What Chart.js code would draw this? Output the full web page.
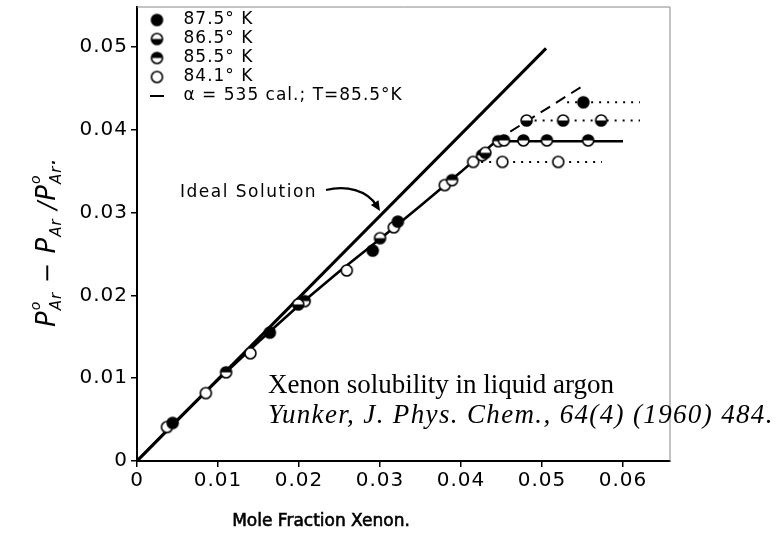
<!DOCTYPE html>
<html>
<head>
<meta charset="utf-8">
<script src="https://cdn.jsdelivr.net/npm/chart.js@4.4.1/dist/chart.umd.min.js"></script>
<style>
  html, body { margin: 0; padding: 0; background: #fff; }
</style>
</head>
<body>
<canvas id="chart" width="782" height="541"></canvas>
<script>
// Xenon in liquid argon: relative vapour pressure lowering vs mole fraction
const tickValues = [0, 0.01, 0.02, 0.03, 0.04, 0.05, 0.06];
const seriesLabels = ["87.5° K", "86.5° K", "85.5° K", "84.1° K"];
const theoryLabel = "α = 535 cal.; T=85.5°K";

const x875 = [0.0044, 0.0164, 0.0291, 0.0322, 0.0551];
const y875 = [0.0046, 0.0155, 0.0254, 0.0289, 0.0433];

const x865 = [0.0199, 0.0300, 0.0430, 0.0481, 0.0526, 0.0573];
const y865 = [0.0189, 0.0269, 0.0372, 0.0411, 0.0411, 0.0411];

const x855 = [0.0110, 0.0207, 0.0389, 0.0426, 0.0446, 0.0453, 0.0477, 0.0506, 0.0557];
const y855 = [0.0107, 0.0193, 0.0339, 0.0369, 0.0386, 0.0387, 0.0387, 0.0387, 0.0387];

const x841 = [0.0037, 0.0085, 0.0140, 0.0259, 0.0317, 0.0380, 0.0415, 0.0451, 0.0520];
const y841 = [0.0041, 0.0082, 0.0130, 0.0230, 0.0282, 0.0333, 0.0361, 0.0361, 0.0361];

// smooth experimental curve through the points, flat once saturated
const curveX = [0, 0.005, 0.010, 0.015, 0.020, 0.025, 0.030, 0.035, 0.040, 0.0443, 0.0600];
const curveY = [0, 0.0050, 0.0098, 0.0144, 0.0188, 0.0229, 0.0268, 0.0308, 0.0349, 0.0386, 0.0386];

const idealX = [0, 0.0505];
const idealY = [0, 0.0498];

const theoryX = [0.0442, 0.0554];
const theoryY = [0.0386, 0.0455];

// saturation plateaus (dotted)
const sat875X = [0.0531, 0.0621], sat875Y = [0.0433, 0.0433];
const sat865X = [0.0481, 0.0621], sat865Y = [0.0411, 0.0411];
const sat841X = [0.0415, 0.0574], sat841Y = [0.0361, 0.0361];

const zip = (xs, ys) => xs.map((x, i) => ({ x, y: ys[i] }));

function marker(kind, r) {
  const c = document.createElement("canvas");
  const s = Math.ceil(2 * r + 4);
  c.width = c.height = s;
  const g = c.getContext("2d");
  const m = s / 2;
  g.fillStyle = "#fff";
  g.beginPath(); g.arc(m, m, r, 0, Math.PI * 2); g.fill();
  g.fillStyle = "#000";
  g.beginPath();
  if (kind === "full") g.arc(m, m, r, 0, Math.PI * 2);
  if (kind === "lower") g.arc(m, m, r, 0, Math.PI);
  if (kind === "upper") g.arc(m, m, r, Math.PI, Math.PI * 2);
  g.closePath();
  if (kind !== "open") g.fill();
  g.lineWidth = 1.6;
  g.strokeStyle = "#000";
  g.beginPath(); g.arc(m, m, r, 0, Math.PI * 2); g.stroke();
  return c;
}

function dashIcon() {
  const c = document.createElement("canvas");
  c.width = 14; c.height = 4;
  const g = c.getContext("2d");
  g.fillStyle = "#000";
  g.fillRect(0, 1, 14, 2);
  return c;
}

const pts = (label, xs, ys, style) => ({
  label, data: zip(xs, ys), showLine: false, pointStyle: style,
  pointRadius: 6, pointHoverRadius: 6, inLegend: true
});
const line = (label, xs, ys, width, dash, legend) => ({
  label, data: zip(xs, ys), showLine: true, pointRadius: 0, borderColor: "#000",
  borderWidth: width, borderDash: dash, tension: 0, inLegend: legend,
  pointStyle: legend ? dashIcon() : "circle"
});

const extras = {
  id: "extras",
  beforeUpdate(chart) { chart.ctx.letterSpacing = "1px"; },
  beforeDraw(chart) { chart.ctx.letterSpacing = "1px"; },
  afterDraw(chart) {
    const ctx = chart.ctx;
    const a = chart.chartArea;
    ctx.save();

    // faint frame on the top and right
    ctx.strokeStyle = "#888";
    ctx.lineWidth = 1;
    ctx.beginPath();
    ctx.moveTo(a.left, a.top); ctx.lineTo(a.right, a.top); ctx.lineTo(a.right, a.bottom);
    ctx.stroke();

    ctx.fillStyle = "#000";
    ctx.strokeStyle = "#000";

    // "Ideal Solution" label with curved arrow
    ctx.letterSpacing = "1.5px";
    ctx.font = '17px "DejaVu Sans"';
    ctx.textBaseline = "middle";
    ctx.textAlign = "left";
    ctx.fillText("Ideal Solution", 180, 193);
    ctx.lineWidth = 2.2;
    ctx.beginPath();
    ctx.moveTo(326, 190);
    ctx.bezierCurveTo(346, 185, 367, 190, 377, 206);
    ctx.stroke();
    const ang = Math.atan2(206 - 190, 377 - 367);
    ctx.save();
    ctx.translate(380, 211);
    ctx.rotate(ang);
    ctx.beginPath();
    ctx.moveTo(0, 0); ctx.lineTo(-10, -4.5); ctx.lineTo(-10, 4.5); ctx.closePath();
    ctx.fill();
    ctx.restore();

    // x axis title, slightly heavier than the tick labels
    ctx.letterSpacing = "0px";
    ctx.font = '17px "DejaVu Sans"';
    ctx.textAlign = "center";
    ctx.lineWidth = 0.6;
    ctx.fillText("Mole Fraction Xenon.", 321, 522);
    ctx.strokeText("Mole Fraction Xenon.", 321, 522);

    // y axis title, rotated, with sub/superscripts
    ctx.letterSpacing = "1px";
    const parts = [
      ["P", 26, 0], ["o", 14, -15], ["Ar", 15, 6], [" − ", 24, 0],
      ["P", 26, 0], ["Ar", 15, 6], [" /", 24, 0],
      ["P", 26, 0], ["o", 14, -15], ["Ar", 15, 6], [".", 24, 0]
    ];
    ctx.save();
    ctx.translate(55, 242);
    ctx.rotate(-Math.PI / 2);
    ctx.textAlign = "left";
    ctx.textBaseline = "alphabetic";
    let total = 0;
    const widths = parts.map(([t, size, dy]) => {
      ctx.font = `italic ${size}px "DejaVu Sans"`;
      const w = ctx.measureText(t).width;
      if (dy >= 0) total += w;
      return w;
    });
    // a superscript sits over the subscript that follows it
    let x = -total / 2;
    parts.forEach(([t, size, dy], i) => {
      ctx.font = `italic ${size}px "DejaVu Sans"`;
      ctx.fillText(t, x, dy);
      if (dy >= 0) x += widths[i];
    });
    ctx.restore();

    // source note
    ctx.textAlign = "left";
    ctx.textBaseline = "alphabetic";
    ctx.letterSpacing = "0px";
    ctx.font = '27px "Liberation Serif"';
    ctx.fillText("Xenon solubility in liquid argon", 268, 393);
    ctx.letterSpacing = "1.35px";
    ctx.font = 'italic 27px "Liberation Serif"';
    ctx.fillText("Yunker, J. Phys. Chem., 64(4) (1960) 484.", 268, 423);

    ctx.restore();
  }
};

const tickFmt = (v) => (v === 0 ? "0" : v.toFixed(2));

new Chart(document.getElementById("chart"), {
  type: "scatter",
  data: {
    datasets: [
      pts(seriesLabels[0], x875, y875, marker("full", 5.5)),
      pts(seriesLabels[1], x865, y865, marker("lower", 5.5)),
      pts(seriesLabels[2], x855, y855, marker("upper", 5.5)),
      pts(seriesLabels[3], x841, y841, marker("open", 5.5)),
      line(theoryLabel, theoryX, theoryY, 2, [11, 7], true),
      line("curve", curveX, curveY, 2.6, [], false),
      line("ideal", idealX, idealY, 3, [], false),
      line("sat875", sat875X, sat875Y, 2, [2, 6], false),
      line("sat865", sat865X, sat865Y, 2, [2, 6], false),
      line("sat841", sat841X, sat841Y, 2, [2, 6], false)
    ]
  },
  options: {
    responsive: false,
    animation: false,
    devicePixelRatio: 1,
    layout: { padding: { top: 6, right: 112, left: 0, bottom: 0 } },
    plugins: {
      tooltip: { enabled: false },
      legend: {
        position: "chartArea",
        align: "start",
        title: { display: true, text: " ", font: { size: 1 }, padding: { top: 8.3, bottom: 0 } },
        labels: {
          usePointStyle: true,
          pointStyleWidth: 36,
          font: { family: "DejaVu Sans", size: 17 },
          color: "#000",
          padding: 2,
          filter: (item, data) => data.datasets[item.datasetIndex].inLegend
        }
      }
    },
    scales: {
      x: {
        type: "linear",
        min: 0,
        max: 0.0658,
        afterFit: (s) => { s.height = 80; s.paddingLeft = 0; s.paddingRight = 0; },
        afterBuildTicks: (s) => { s.ticks = tickValues.map((v) => ({ value: v })); },
        ticks: { callback: tickFmt, color: "#000", padding: 2, font: { family: "DejaVu Sans", size: 20 }, maxRotation: 0 },
        grid: { drawOnChartArea: false, drawTicks: true, tickLength: 6, color: "#000", lineWidth: 1.5 },
        border: { display: true, color: "#000", width: 2 }
      },
      y: {
        type: "linear",
        min: 0,
        max: 0.0548,
        afterFit: (s) => { s.width = 137; s.paddingTop = 0; s.paddingBottom = 0; },
        afterBuildTicks: (s) => { s.ticks = tickValues.slice(0, 6).map((v) => ({ value: v })); },
        ticks: { callback: tickFmt, color: "#000", padding: 3, font: { family: "DejaVu Sans", size: 20 } },
        grid: { drawOnChartArea: false, drawTicks: true, tickLength: 6, color: "#000", lineWidth: 1.5 },
        border: { display: true, color: "#000", width: 2 }
      }
    }
  },
  plugins: [extras]
});
</script>
</body>
</html>
